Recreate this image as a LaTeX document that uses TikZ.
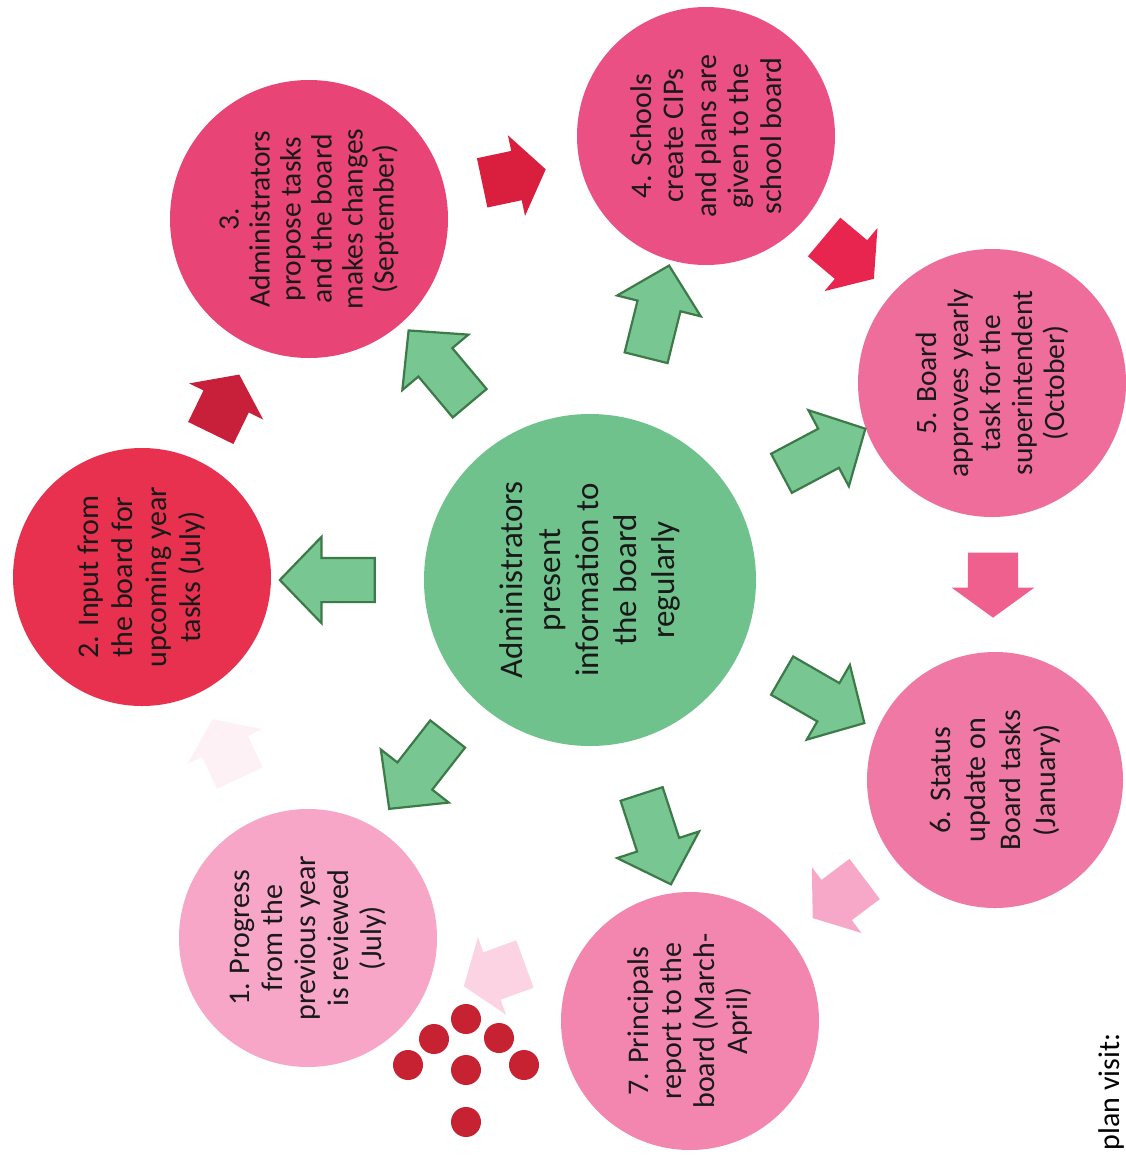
\documentclass[tikz,border=0pt]{standalone}
\usepackage{fontspec}
\setmainfont{Carlito}
\usetikzlibrary{shapes.arrows, positioning}

\definecolor{midgreen}{HTML}{70C28D}
\definecolor{arrowgreen}{HTML}{78C793}
\definecolor{arrowline}{HTML}{3C7A48}
\definecolor{pinkone}{HTML}{F7A6C7}
\definecolor{pinktwo}{HTML}{E8304F}
\definecolor{pinkthree}{HTML}{E84476}
\definecolor{pinkfour}{HTML}{EA5083}
\definecolor{pinkfive}{HTML}{EE6D9B}
\definecolor{pinksix}{HTML}{F078A4}
\definecolor{pinkseven}{HTML}{F386AF}
\definecolor{dotred}{HTML}{C62231}
\definecolor{cycleone}{HTML}{C8203A}
\definecolor{cycletwo}{HTML}{DA1F3E}
\definecolor{cyclethree}{HTML}{E8254E}
\definecolor{cyclefour}{HTML}{F0608F}
\definecolor{cyclefive}{HTML}{F7A8C8}
\definecolor{cyclesix}{HTML}{FBD3E3}
\definecolor{cycleseven}{HTML}{FEF1F5}

\tikzset{
  stage/.style={circle, inner sep=0pt, align=center, rotate=90, text=black!90,
    font=\fontsize{30}{33}\selectfont},
  greenarrow/.style={single arrow, draw=arrowline, fill=arrowgreen, line width=2.2pt,
    minimum height=95pt, inner xsep=0pt, inner ysep=21pt, single arrow head extend=21pt,
    single arrow head indent=0pt, single arrow tip angle=92},
  cyclearrow/.style={single arrow, minimum height=65pt, inner xsep=0pt, inner ysep=25pt,
    single arrow head extend=16pt, single arrow head indent=0pt,
    single arrow tip angle=108},
  dot/.style={circle, fill=dotred, minimum size=30pt, inner sep=0pt},
}

\begin{document}
\begin{tikzpicture}[x=1pt, y=-1pt]
  \clip (0,0) rectangle (1126,1157);
  \fill[white] (0,0) rectangle (1126,1157);

  % stages of the cycle
  \node[stage, fill=midgreen, minimum size=332pt, font=\fontsize{33}{38}\selectfont] (admin) at (590,580)
    {Administrators\\present\\information to\\the board\\regularly};
  \node[stage, fill=pinkone, minimum size=258pt] (progress) at (308,938)
    {1. Progress\\from the\\previous year\\is reviewed\\(July)};
  \node[stage, fill=pinktwo, minimum size=258pt, font=\fontsize{30}{34}\selectfont] (input) at (142,577)
    {2. Input from\\the board for\\upcoming year\\tasks (July)};
  \node[stage, fill=pinkthree, minimum size=278pt, font=\fontsize{29.5}{31}\selectfont] (propose) at (309,219)
    {3.\\Administrators\\propose tasks\\and the board\\makes changes\\(September)};
  \node[stage, fill=pinkfour, minimum size=258pt, font=\fontsize{30}{32.5}\selectfont] (schools) at (706,136)
    {4. Schools\\create CIPs\\and plans are\\given to the\\school board};
  \node[stage, fill=pinkfive, minimum size=268pt, font=\fontsize{29.5}{32}\selectfont] (approves) at (992,383)
    {5. Board\\approves yearly\\task for the\\superintendent\\(October)};
  \node[stage, fill=pinksix, minimum size=256pt, font=\fontsize{30}{35}\selectfont] (status) at (995,780)
    {6. Status\\update on\\Board tasks\\(January)};
  \node[stage, fill=pinkseven, minimum size=258pt] (principals) at (690,1021)
    {7. Principals\\report to the\\board (March-\\April)};

  % green arrows from the centre
  \node[greenarrow, rotate=180] (to-input) at (338,580) {};
  \node[greenarrow, rotate=130] (to-propose) at (446,375) {};
  \node[greenarrow, rotate=76] (to-schools) at (655,322) {};
  \node[greenarrow, rotate=28] (to-approves) at (814,456) {};
  \node[greenarrow, rotate=-30] (to-status) at (814,694) {};
  \node[greenarrow, rotate=-72] (to-principals) at (653,829) {};
  \node[greenarrow, rotate=232] (to-progress) at (425,763) {};

  % arrows between the stages
  \node[cyclearrow, fill=cycleone, rotate=64] (input-propose) at (221,412) {};
  \node[cyclearrow, fill=cycletwo, rotate=12] (propose-schools) at (505,178) {};
  \node[cyclearrow, fill=cyclethree, rotate=-40] (schools-approves) at (842,252) {};
  \node[cyclearrow, fill=cyclefour, rotate=-90] (approves-status) at (993,576) {};
  \node[cyclearrow, fill=cyclefive, rotate=217] (status-principals) at (846,893) {};
  \node[cyclearrow, fill=cyclesix, rotate=200] (principals-progress) at (503,972) {};
  \node[cyclearrow, fill=cycleseven, rotate=115] (progress-input) at (230,757) {};

  % red dots
  \foreach \x/\y in {466/1019, 434/1039, 499/1038, 408/1065, 466/1070, 524/1065, 466/1122}
    \node[dot] (dot-\x-\y) at (\x,\y) {};

  \node[rotate=90, anchor=base east, font=\fontsize{30}{36}\selectfont] (visit) at (1119,1030) {plan visit:};
\end{tikzpicture}
\end{document}
